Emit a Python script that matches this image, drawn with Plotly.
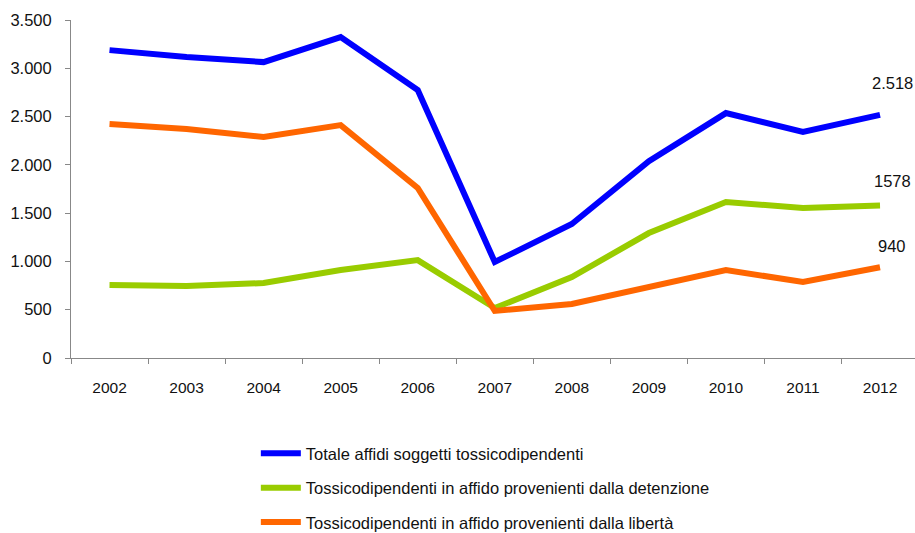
import plotly.graph_objects as go

years = ["2002", "2003", "2004", "2005", "2006", "2007", "2008", "2009", "2010", "2011", "2012"]
totale = [3188, 3116, 3064, 3323, 2774, 994, 1387, 2039, 2536, 2340, 2518]
detenzione = [756, 745, 776, 911, 1014, 518, 838, 1294, 1615, 1553, 1578]
liberta = [2422, 2371, 2288, 2412, 1760, 487, 559, 735, 911, 787, 940]
names = ["Totale affidi soggetti tossicodipendenti",
         "Tossicodipendenti in affido provenienti dalla detenzione",
         "Tossicodipendenti in affido provenienti dalla libertà"]
end_labels = ["2.518", "1578", "940"]

colors = ["#0000FF", "#99CC00", "#FF6600"]
series = [totale, detenzione, liberta]

fig = go.Figure()
for i, (s, n, c) in enumerate(zip(series, names, colors)):
    fig.add_trace(go.Scatter(x=years, y=s, name=n, mode="lines",
                             line=dict(color=c, width=6),
                             legendgroup=str(i)))

shifts = [32, 25, 21]
last_idx = len(years) - 1
for s, lab, sh in zip(series, end_labels, shifts):
    fig.add_annotation(x=last_idx, y=s[-1], text=lab, showarrow=False,
                       yshift=sh, xshift=12, font=dict(size=16.5, color="#111"))

fig.update_layout(
    width=915, height=533,
    margin=dict(l=71, r=0, t=20, b=175),
    plot_bgcolor="white", paper_bgcolor="white",
    separators=",.",
    font=dict(family="Liberation Sans, Arial, sans-serif", size=16, color="#111"),
    showlegend=True,
    legend=dict(x=0.219, y=0.182, xref="paper", yref="container",
                xanchor="left", yanchor="top",
                tracegroupgap=10, font=dict(size=16.5), itemwidth=40),
    xaxis=dict(type="category", range=[-0.5, 10.454], showgrid=False,
               showline=True, linecolor="#888", automargin=False,
               linewidth=1, ticks="outside", tickson="boundaries", ticklen=5,
               tickcolor="#888", tickfont=dict(size=15.5), ticklabelstandoff=15),
    yaxis=dict(range=[0, 3500], dtick=500, tickformat=",d", showgrid=False,
               showline=True, linecolor="#888", linewidth=1, ticks="outside",
               ticklen=5, tickcolor="#888", zeroline=False, automargin=False,
               tickfont=dict(size=16.5), ticklabelstandoff=10),
)

fig.write_html("out.html", config={"displayModeBar": False},
               post_script="document.body.style.margin='0';document.body.style.overflow='hidden';")
